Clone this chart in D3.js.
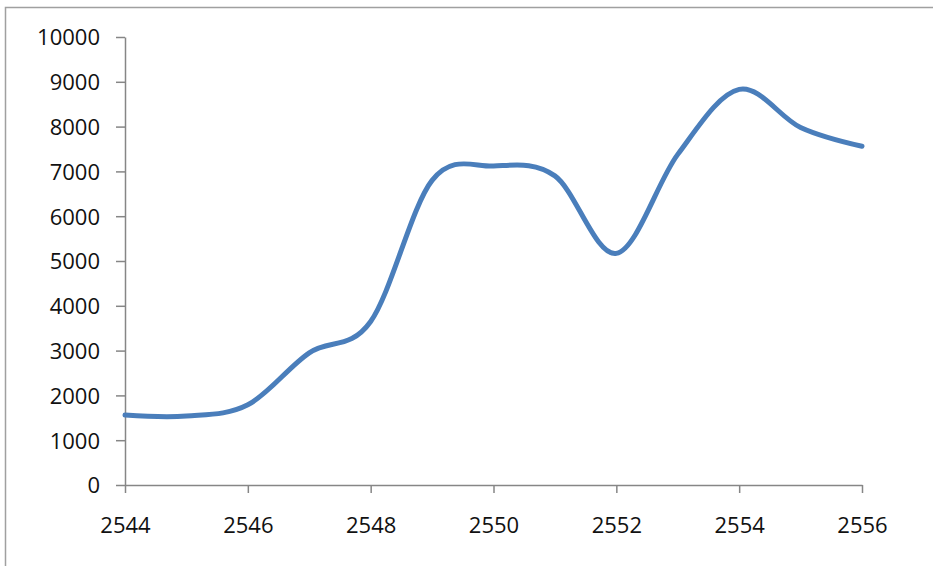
<!DOCTYPE html>
<html>
<head>
<meta charset="utf-8">
<script src="https://cdn.jsdelivr.net/npm/d3@7"></script>
<style>
  html, body { margin: 0; padding: 0; background: #fff; }
  svg { display: block; }
  .tick text { font-family: "Open Sans", "Liberation Sans", sans-serif; font-size: 22px; fill: #111; }
</style>
</head>
<body>
<svg id="chart" width="933" height="566"></svg>
<script>
// Yearly series (Buddhist Era years)
const years = [2544, 2545, 2546, 2547, 2548, 2549, 2550, 2551, 2552, 2553, 2554, 2555, 2556];
const values = [1560, 1540, 1790, 2950, 3650, 6800, 7120, 6900, 5170, 7380, 8830, 7980, 7560];
const xTicks = [2544, 2546, 2548, 2550, 2552, 2554, 2556];
const yTicks = [0, 1000, 2000, 3000, 4000, 5000, 6000, 7000, 8000, 9000, 10000];

const svg = d3.select("#chart");
const W = 933, H = 566;
const plot = { left: 125, right: 862, top: 37, bottom: 485 };

// Outer chart frame (runs off the right and bottom edges)
svg.append("rect")
  .attr("x", 5.5).attr("y", 7.5)
  .attr("width", W + 10).attr("height", H + 10)
  .attr("fill", "#fff").attr("stroke", "#a0a0a0").attr("stroke-width", 1.5);

const x = d3.scaleLinear().domain([2544, 2556]).range([plot.left, plot.right]);
const y = d3.scaleLinear().domain([0, 10000]).range([plot.bottom, plot.top]);

const yAxis = svg.append("g")
  .attr("transform", `translate(${plot.left},0)`)
  .call(d3.axisLeft(y).tickValues(yTicks).tickSize(9).tickPadding(16).tickSizeOuter(0).tickFormat(d3.format("d")));

const xAxis = svg.append("g")
  .attr("transform", `translate(0,${plot.bottom})`)
  .call(d3.axisBottom(x).tickValues(xTicks).tickSize(8).tickPadding(24).tickSizeOuter(0).tickFormat(d3.format("d")));

[yAxis, xAxis].forEach(g => {
  g.select(".domain").attr("stroke", "#868686").attr("stroke-width", 1.5);
  g.selectAll(".tick line").attr("stroke", "#868686").attr("stroke-width", 1.5);
});
yAxis.selectAll(".tick text").attr("dy", "0.36em");

// Smoothed series line
const line = d3.line()
  .x((d, i) => x(years[i]))
  .y(d => y(d))
  .curve(d3.curveCardinal.tension(0));

svg.append("path")
  .datum(values)
  .attr("d", line)
  .attr("fill", "none")
  .attr("stroke", "#4a7ebb")
  .attr("stroke-width", 5)
  .attr("stroke-linecap", "round")
  .attr("stroke-linejoin", "round");
</script>
</body>
</html>
